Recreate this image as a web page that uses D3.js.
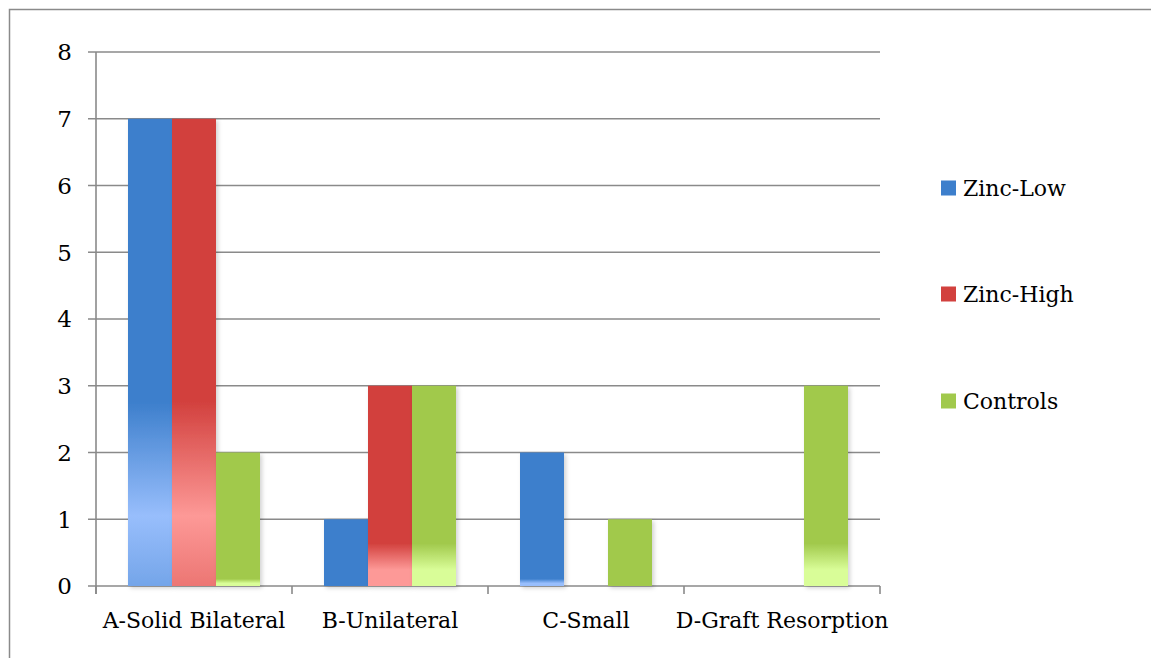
<!DOCTYPE html>
<html>
<head>
<meta charset="utf-8">
<title>Zinc graft outcome chart</title>
<script src="https://d3js.org/d3.v7.min.js"></script>
<style>
  html, body { margin: 0; padding: 0; background: #fff; }
  svg { display: block; }
  text { font-family: "DejaVu Serif", "Liberation Serif", serif; fill: #000; }
</style>
</head>
<body>
<svg id="chart" width="1151" height="658"></svg>
<script>
  // data
  const categories = ["A-Solid Bilateral", "B-Unilateral", "C-Small", "D-Graft Resorption"];
  const seriesNames = ["Zinc-Low", "Zinc-High", "Controls"];
  const zincLow  = [7, 1, 2, 0];
  const zincHigh = [7, 3, 0, 0];
  const controls = [2, 3, 1, 3];
  const yTicks = [0, 1, 2, 3, 4, 5, 6, 7, 8];

  const seriesValues = [zincLow, zincHigh, controls];
  const dark  = ["#3d7fcc", "#d2413e", "#a1c94c"];
  const light = ["#98befc", "#fd9997", "#d9fd98"];

  const svg = d3.select("#chart");
  const plot = { left: 96, right: 880, top: 52, bottom: 586 };

  // outer frame (right and bottom edges fall outside the window)
  svg.append("rect")
    .attr("x", 9.5).attr("y", 9.5)
    .attr("width", 1160).attr("height", 670)
    .attr("fill", "none").attr("stroke", "#8a8a8a").attr("stroke-width", 1.5);

  const x0 = d3.scaleBand().domain(categories).range([plot.left, plot.right]).paddingInner(0).paddingOuter(0);
  const x1 = d3.scaleBand().domain(seriesNames).range([32, x0.bandwidth() - 32]);
  const y = d3.scaleLinear().domain([0, 8]).range([plot.bottom, plot.top]);

  const defs = svg.append("defs");
  const shadow = defs.append("filter").attr("id", "shadow")
    .attr("x", "-20%").attr("y", "-5%").attr("width", "150%").attr("height", "115%");
  shadow.append("feDropShadow").attr("dx", 2).attr("dy", 2).attr("stdDeviation", 2)
    .attr("flood-color", "#000").attr("flood-opacity", 0.18);

  // gridlines
  svg.append("g")
    .selectAll("line")
    .data(yTicks)
    .join("line")
    .attr("x1", plot.left - 8).attr("x2", plot.right)
    .attr("y1", d => y(d)).attr("y2", d => y(d))
    .attr("stroke", "#8a8a8a").attr("stroke-width", 1.6);

  // y axis line
  svg.append("line")
    .attr("x1", plot.left).attr("x2", plot.left)
    .attr("y1", plot.top).attr("y2", plot.bottom + 8)
    .attr("stroke", "#8a8a8a").attr("stroke-width", 1.6);

  // x ticks at band edges
  const edges = categories.map(c => x0(c)).concat([plot.right]);
  svg.append("g")
    .selectAll("line")
    .data(edges)
    .join("line")
    .attr("x1", d => d).attr("x2", d => d)
    .attr("y1", plot.bottom).attr("y2", plot.bottom + 8)
    .attr("stroke", "#8a8a8a").attr("stroke-width", 1.6);

  // y labels
  svg.append("g")
    .selectAll("text")
    .data(yTicks)
    .join("text")
    .attr("x", 72).attr("y", d => y(d))
    .attr("dy", "0.36em")
    .attr("text-anchor", "end")
    .attr("font-size", 23)
    .text(d => d);

  // x labels
  svg.append("g")
    .selectAll("text")
    .data(categories)
    .join("text")
    .attr("x", d => x0(d) + x0.bandwidth() / 2)
    .attr("y", 628)
    .attr("text-anchor", "middle")
    .attr("font-size", 22)
    .text(d => d);

  // bar gradient: solid on top, fading to a light tint near the base of tall bars
  let gid = 0;
  function barFill(si, h) {
    const fade = Math.max(0, h - 120) * 0.53;
    if (fade < 2) return dark[si];
    const id = "g" + (gid++);
    const g = defs.append("linearGradient").attr("id", id)
      .attr("x1", 0).attr("y1", 0).attr("x2", 0).attr("y2", 1);
    const s0 = 1 - fade / h;
    const lightDist = fade * 0.38;
    const s1 = 1 - lightDist / h;
    g.append("stop").attr("offset", 0).attr("stop-color", dark[si]);
    g.append("stop").attr("offset", s0).attr("stop-color", dark[si]);
    g.append("stop").attr("offset", s1).attr("stop-color", light[si]);
    const endCol = lightDist > 30 ? d3.interpolateRgb(light[si], dark[si])(0.4) : light[si];
    g.append("stop").attr("offset", 1).attr("stop-color", endCol);
    return "url(#" + id + ")";
  }

  const barData = [];
  categories.forEach((c, ci) => {
    seriesNames.forEach((s, si) => {
      barData.push({ cat: c, series: s, si: si, value: seriesValues[si][ci] });
    });
  });

  svg.append("g")
    .selectAll("rect")
    .data(barData.filter(d => d.value > 0))
    .join("rect")
    .attr("x", d => x0(d.cat) + x1(d.series))
    .attr("y", d => y(d.value))
    .attr("width", x1.bandwidth())
    .attr("height", d => y(0) - y(d.value))
    .attr("fill", d => barFill(d.si, y(0) - y(d.value)))
    .attr("filter", "url(#shadow)");

  // legend
  const legendY = [188, 294, 401];
  const legend = svg.append("g")
    .selectAll("g")
    .data(seriesNames)
    .join("g")
    .attr("transform", (d, i) => `translate(941,${legendY[i]})`);
  legend.append("rect")
    .attr("x", 0).attr("y", -7.5).attr("width", 15).attr("height", 15)
    .attr("fill", (d, i) => dark[i]);
  legend.append("text")
    .attr("x", 22).attr("y", 0).attr("dy", "0.36em")
    .attr("font-size", 22)
    .text(d => d);
</script>
</body>
</html>
